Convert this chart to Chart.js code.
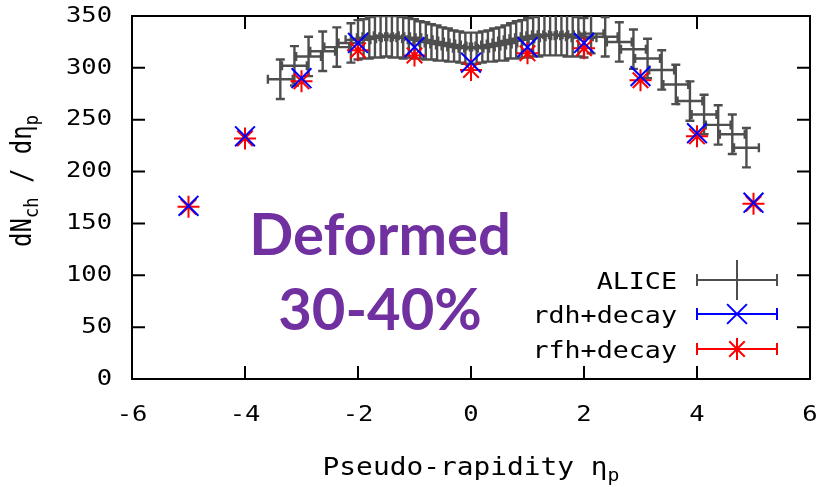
<!DOCTYPE html>
<html>
<head>
<meta charset="utf-8">
<script src="https://cdn.jsdelivr.net/npm/chart.js@4.4.1/dist/chart.umd.min.js"></script>
<style>
  html, body { margin: 0; padding: 0; background: #fff; }
</style>
</head>
<body>
<canvas id="myChart" width="828" height="487"></canvas>
<script>
// model points (one per unit of pseudo-rapidity)
var etaModel = [-5, -4, -3, -2, -1, 0, 1, 2, 3, 4, 5];
var rdhValues = [167, 234, 290, 324, 320, 305, 320, 324, 292, 237, 170];
var rfhValues = [166, 232, 287, 317, 312, 298, 314, 319, 288, 234, 169];

// ALICE measurement: forward bins, central bins, forward bins
var etaAlice = [
  -3.375, -3.125, -2.875, -2.625, -2.375, -2.125,
  -2.0, -1.9, -1.8, -1.7, -1.6, -1.5, -1.4, -1.3, -1.2, -1.1,
  -1.0, -0.9, -0.8, -0.7, -0.6, -0.5, -0.4, -0.3, -0.2, -0.1,
  0.0, 0.1, 0.2, 0.3, 0.4, 0.5, 0.6, 0.7, 0.8, 0.9,
  1.0, 1.1, 1.2, 1.3, 1.4, 1.5, 1.6, 1.7, 1.8, 1.9, 2.0,
  2.125, 2.375, 2.625, 2.875, 3.125, 3.375, 3.625, 3.875, 4.125, 4.375, 4.625, 4.875
];
var aliceValues = [
  289, 302, 311, 316, 320, 324,
  327, 328, 329, 330, 330, 331, 330, 330, 329, 329,
  328, 327, 326, 325, 324, 323, 322, 321, 320, 319,
  319, 319, 320, 321, 322, 323, 324, 326, 327, 328,
  329, 330, 331, 332, 332, 332, 332, 331, 331, 330, 329,
  333, 330, 325, 318, 309, 298, 284, 268, 255, 245, 236, 223
];
var aliceErr = [
  19, 19, 19, 19, 19, 19,
  19, 19, 20, 20, 20, 20, 20, 20, 20, 19,
  19, 18, 18, 17, 17, 16, 16, 15, 15, 15,
  15, 15, 15, 15, 16, 16, 17, 17, 18, 18,
  19, 19, 20, 20, 20, 20, 20, 20, 20, 19, 19,
  19, 19, 19, 19, 19, 19, 19, 19, 19, 19, 19, 19
];
var aliceBinHalf = 0.22;

var xTicks = [-6, -4, -2, 0, 2, 4, 6];
var yTicks = [0, 50, 100, 150, 200, 250, 300, 350];

var mono = "'DejaVu Sans Mono', monospace";
var grey = "#4e4e4e";
var wide = 1.16; // horizontal stretch of the lettering

function pts(xs, ys) {
  return xs.map(function (x, i) { return { x: x, y: ys[i] }; });
}

function wideText(ctx, text, x, y, align) {
  ctx.save();
  ctx.translate(x, y);
  ctx.scale(wide, 1);
  ctx.textAlign = align;
  ctx.fillText(text, 0, 0);
  ctx.restore();
}

// text with subscripts: parts = [[text, isSub], ...]
function partsWidth(ctx, parts, size, subSize) {
  var w = 0;
  parts.forEach(function (p) {
    ctx.font = (p[1] ? subSize : size) + "px " + mono;
    w += ctx.measureText(p[0]).width;
  });
  return w;
}
function drawParts(ctx, parts, x, y, size, subSize) {
  parts.forEach(function (p) {
    ctx.font = (p[1] ? subSize : size) + "px " + mono;
    ctx.fillText(p[0], x, p[1] ? y + 6 : y);
    x += ctx.measureText(p[0]).width;
  });
}

var frame = {
  id: "frame",
  beforeDatasetsDraw: function (chart) {
    var ctx = chart.ctx, a = chart.chartArea;
    var xs = chart.scales.x, ys = chart.scales.y;
    ctx.save();
    ctx.strokeStyle = "#000";
    ctx.lineWidth = 2;
    ctx.beginPath();
    xs.ticks.forEach(function (t) {
      var x = xs.getPixelForValue(t.value);
      ctx.moveTo(x, a.bottom); ctx.lineTo(x, a.bottom - 13);
      ctx.moveTo(x, a.top); ctx.lineTo(x, a.top + 13);
    });
    ys.ticks.forEach(function (t) {
      var y = ys.getPixelForValue(t.value);
      ctx.moveTo(a.left, y); ctx.lineTo(a.left + 13, y);
      ctx.moveTo(a.right, y); ctx.lineTo(a.right - 13, y);
    });
    ctx.stroke();
    ctx.strokeRect(a.left, a.top, a.right - a.left, a.bottom - a.top);

    // tick labels
    ctx.fillStyle = "#000";
    ctx.font = "22px " + mono;
    ctx.textBaseline = "middle";
    xs.ticks.forEach(function (t) {
      wideText(ctx, String(t.value), xs.getPixelForValue(t.value), a.bottom + 36, "center");
    });
    ys.ticks.forEach(function (t) {
      wideText(ctx, String(t.value), a.left - 20, ys.getPixelForValue(t.value), "right");
    });
    ctx.restore();
  }
};

// x/y error bars with caps for the ALICE points
var errorBars = {
  id: "errorBars",
  beforeDatasetsDraw: function (chart) {
    var ctx = chart.ctx, a = chart.chartArea;
    var xs = chart.scales.x, ys = chart.scales.y;
    var cap = 4.5;
    ctx.save();
    ctx.beginPath();
    ctx.rect(a.left, a.top, a.right - a.left, a.bottom - a.top);
    ctx.clip();
    ctx.strokeStyle = grey;
    ctx.lineWidth = 2.4;
    ctx.beginPath();
    for (var i = 0; i < etaAlice.length; i++) {
      var x = xs.getPixelForValue(etaAlice[i]);
      var y = ys.getPixelForValue(aliceValues[i]);
      var x0 = xs.getPixelForValue(etaAlice[i] - aliceBinHalf);
      var x1 = xs.getPixelForValue(etaAlice[i] + aliceBinHalf);
      var y0 = ys.getPixelForValue(aliceValues[i] - aliceErr[i]);
      var y1 = ys.getPixelForValue(aliceValues[i] + aliceErr[i]);
      ctx.moveTo(x0, y); ctx.lineTo(x1, y);
      ctx.moveTo(x0, y - cap); ctx.lineTo(x0, y + cap);
      ctx.moveTo(x1, y - cap); ctx.lineTo(x1, y + cap);
      ctx.moveTo(x, y0); ctx.lineTo(x, y1);
      ctx.moveTo(x - cap, y0); ctx.lineTo(x + cap, y0);
      ctx.moveTo(x - cap, y1); ctx.lineTo(x + cap, y1);
    }
    ctx.stroke();
    ctx.restore();
  }
};

// axis titles, key and the purple annotation
var texts = {
  id: "texts",
  afterDraw: function (chart) {
    var ctx = chart.ctx;
    ctx.save();
    ctx.fillStyle = "#000";
    ctx.textBaseline = "alphabetic";
    ctx.textAlign = "left";

    var xt = [["Pseudo-rapidity η", 0], ["p", 1]];
    ctx.save();
    ctx.translate(471 - partsWidth(ctx, xt, 24, 17) * wide / 2, 475);
    ctx.scale(wide, 1);
    drawParts(ctx, xt, 0, 0, 24, 17);
    ctx.restore();

    var yt = [["dN", 0], ["ch", 1], [" / dη", 0], ["p", 1]];
    ctx.save();
    ctx.translate(31, 181);
    ctx.scale(wide, 1);
    ctx.rotate(-Math.PI / 2);
    drawParts(ctx, yt, -partsWidth(ctx, yt, 24, 17) / 2, 0, 24, 17);
    ctx.restore();

    // key
    var keys = [
      { label: chart.data.datasets[0].label, color: grey, y: 280 },
      { label: chart.data.datasets[1].label, color: "#0000ff", y: 314, style: "crossRot", r: 14 },
      { label: chart.data.datasets[2].label, color: "#ff0000", y: 349, style: "star", r: 11 }
    ];
    keys.forEach(function (k) {
      ctx.font = "23px " + mono;
      ctx.fillStyle = "#000";
      wideText(ctx, k.label, 677, k.y + 9, "right");
      ctx.strokeStyle = k.color;
      ctx.lineWidth = 2;
      ctx.beginPath();
      ctx.moveTo(697, k.y); ctx.lineTo(777, k.y);
      ctx.moveTo(697, k.y - 6); ctx.lineTo(697, k.y + 6);
      ctx.moveTo(777, k.y - 6); ctx.lineTo(777, k.y + 6);
      if (!k.style) { ctx.moveTo(737, k.y - 20); ctx.lineTo(737, k.y + 20); }
      ctx.stroke();
      if (k.style) {
        Chart.helpers.drawPoint(ctx, { pointStyle: k.style, radius: k.r, borderWidth: 2 }, 737, k.y);
      }
    });

    ctx.fillStyle = "#7030a0";
    ctx.textAlign = "center";
    ctx.font = "bold 58px Lato, 'Open Sans', sans-serif";
    ctx.fillText("Deformed", 380, 255);
    ctx.fillText("30-40%", 380, 330);
    ctx.restore();
  }
};

new Chart("myChart", {
  type: "scatter",
  data: {
    datasets: [{
      label: "ALICE",
      data: pts(etaAlice, aliceValues),
      pointRadius: 0,
      borderColor: grey
    }, {
      label: "rdh+decay",
      data: pts(etaModel, rdhValues),
      pointStyle: "crossRot",
      pointRadius: 14,
      borderWidth: 2,
      borderColor: "#0000ff",
      backgroundColor: "#0000ff"
    }, {
      label: "rfh+decay",
      data: pts(etaModel, rfhValues),
      pointStyle: "star",
      pointRadius: 11,
      borderWidth: 2,
      borderColor: "#ff0000",
      backgroundColor: "#ff0000"
    }]
  },
  options: {
    responsive: false,
    animation: false,
    events: [],
    layout: { padding: { top: 16, right: 18, left: 0, bottom: 0 } },
    plugins: { legend: { display: false }, tooltip: { enabled: false } },
    scales: {
      x: {
        type: "linear",
        min: -6, max: 6,
        afterFit: function (s) { s.height = 108; s.paddingLeft = 0; s.paddingRight = 0; },
        afterBuildTicks: function (s) { s.ticks = xTicks.map(function (v) { return { value: v }; }); },
        grid: { display: false },
        border: { display: false },
        ticks: { display: false }
      },
      y: {
        type: "linear",
        min: 0, max: 350,
        afterFit: function (s) { s.width = 132; s.paddingTop = 0; s.paddingBottom = 0; },
        afterBuildTicks: function (s) { s.ticks = yTicks.map(function (v) { return { value: v }; }); },
        grid: { display: false },
        border: { display: false },
        ticks: { display: false }
      }
    }
  },
  plugins: [frame, errorBars, texts]
});
</script>
</body>
</html>
